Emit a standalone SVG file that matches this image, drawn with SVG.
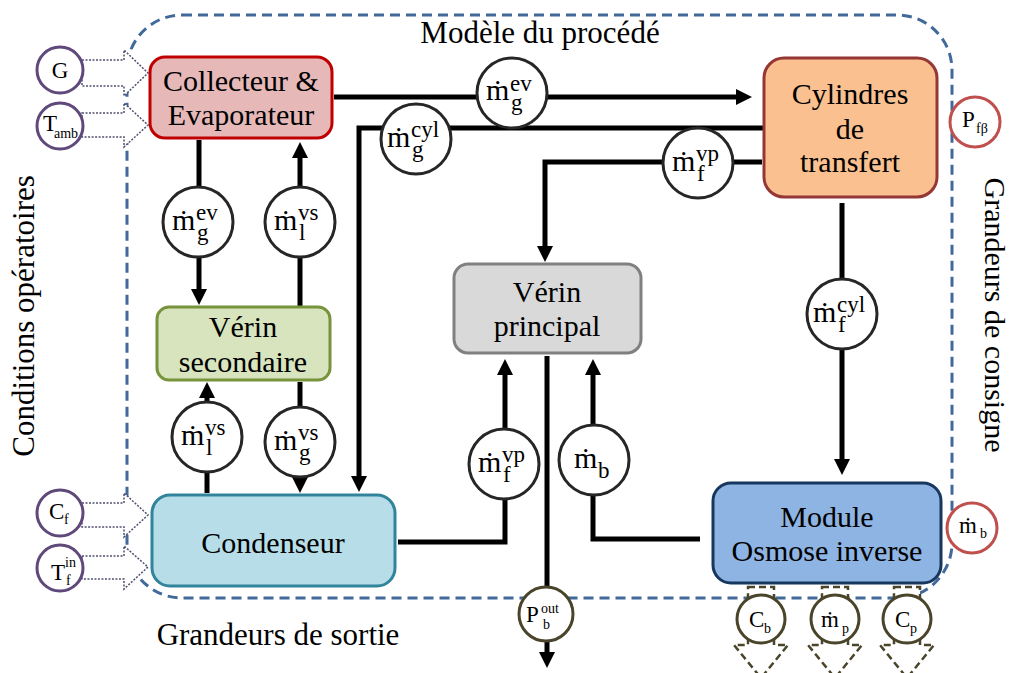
<svg xmlns="http://www.w3.org/2000/svg" width="1011" height="673" viewBox="0 0 1011 673">
<style>
text{font-family:"Liberation Serif","DejaVu Serif",serif;fill:#000}
.bt{font-size:30px;text-anchor:middle}
.lb{font-size:31px;text-anchor:middle}
.m{font-size:30px}
.s{font-size:23px}
.sm{font-size:23px}
.ss{font-size:14px}
.ln{fill:none;stroke:#000;stroke-width:5;marker-end:url(#ah)}
.pl{fill:none;stroke:#000;stroke-width:5}
.fc{fill:#fff;stroke:#262626;stroke-width:3}
.in{fill:#fff;stroke:#5f497a;stroke-width:3}
.sp{fill:#fff;stroke:#c0504d;stroke-width:3}
.out{fill:#fff;stroke:#4a452a;stroke-width:3}
.dot{fill:#fff;stroke:#4f4f6f;stroke-width:1.5;stroke-dasharray:2 1.5}
.dsh{fill:#fff;stroke:#4a452a;stroke-width:2.5;stroke-dasharray:7 4}
.bnd{fill:none;stroke:#41699a;stroke-width:3;stroke-dasharray:10 6}
</style>
<defs>
<marker id="ah" markerUnits="userSpaceOnUse" markerWidth="16" markerHeight="16" refX="6" refY="8" orient="auto">
<path d="M0,0 L16,8 L0,16 z" fill="#000"/>
</marker>
</defs>
<rect width="1011" height="673" fill="#fff"/>
<g id="boundary">
<rect class="bnd" x="127" y="15" width="825" height="583" rx="55" ry="55"/>
<text class="lb" x="540" y="43">Modèle du procédé</text>
<text class="lb" transform="translate(34,316) rotate(-90)">Conditions opératoires</text>
<text class="lb" style="font-size:30px" transform="translate(985,315) rotate(90)">Grandeurs de consigne</text>
<text class="lb" x="278" y="645">Grandeurs de sortie</text>
</g>
<g id="connectors">
<path class="ln" d="M334,97 H742"/>
<path class="ln" d="M764,128 H359 V482"/>
<path class="ln" d="M762,162 H545 V252"/>
<path class="ln" d="M199,140 V295"/>
<path class="ln" d="M300,307 V152"/>
<path class="ln" d="M207,493 V392"/>
<path class="ln" d="M300,382 V483"/>
<path class="ln" d="M398,542 H505 V369"/>
<path class="ln" d="M700,539 H593 V369"/>
<path class="pl" d="M547,356 V590"/>
<path class="ln" d="M547,638 V658"/>
<path class="ln" d="M842,203 V465"/>
<polygon class="dot" points="82,60 124,60 124,50 148,73 124,96 124,86 82,86"/>
<polygon class="dot" points="82,113 124,113 124,103 148,125 124,147 124,137 82,137"/>
<polygon class="dot" points="82,503 124,503 124,493 148,515 124,537 124,527 82,527"/>
<polygon class="dot" points="82,556 124,556 124,546 148,567 124,589 124,579 82,579"/>
<polygon class="dsh" points="748,587 774,587 774,645 788,645 761,678 734,645 748,645"/>
<polygon class="dsh" points="822,587 848,587 848,645 862,645 835,678 808,645 822,645"/>
<polygon class="dsh" points="894,587 920,587 920,645 934,645 907,678 880,645 894,645"/>
</g>
<g id="collecteur">
<rect x="150" y="57" width="182" height="81" rx="15" fill="#e6b9b8" stroke="#c00000" stroke-width="3"/>
<text class="bt" x="241" y="91">Collecteur &amp;</text>
<text class="bt" x="241" y="125">Evaporateur</text>
</g>
<g id="cylindres">
<rect x="764" y="58" width="173" height="139" rx="20" fill="#fac090" stroke="#953735" stroke-width="3"/>
<text class="bt" x="850" y="104">Cylindres</text>
<text class="bt" x="850" y="139">de</text>
<text class="bt" x="850" y="172">transfert</text>
</g>
<g id="verin-secondaire">
<rect x="157" y="307" width="173" height="73" rx="12" fill="#d7e4bd" stroke="#77933c" stroke-width="3"/>
<text class="bt" x="243" y="337">Vérin</text>
<text class="bt" x="243" y="372">secondaire</text>
</g>
<g id="verin-principal">
<rect x="454" y="264" width="187" height="89" rx="14" fill="#d9d9d9" stroke="#808080" stroke-width="3"/>
<text class="bt" x="547" y="302">Vérin</text>
<text class="bt" x="547" y="336">principal</text>
</g>
<g id="condenseur">
<rect x="152" y="495" width="243" height="91" rx="18" fill="#b7dee8" stroke="#31849b" stroke-width="3"/>
<text class="bt" x="273" y="553">Condenseur</text>
</g>
<g id="osmose">
<rect x="713" y="483" width="228" height="100" rx="18" fill="#8eb4e3" stroke="#17375e" stroke-width="3"/>
<text class="bt" x="827" y="527">Module</text>
<text class="bt" x="827" y="561">Osmose inverse</text>
</g>
<g id="f-mg-ev-top">
<circle class="fc" cx="512" cy="93" r="35"/>
<text class="m" x="486" y="100">ṁ<tspan class="s" x="510" dy="-9">ev</tspan><tspan class="s" x="511" dy="19">g</tspan></text>
</g>
<g id="f-mg-cyl">
<circle class="fc" cx="416" cy="139" r="35"/>
<text class="m" x="387" y="147">ṁ<tspan class="s" x="411" dy="-10">cyl</tspan><tspan class="s" x="412" dy="20">g</tspan></text>
</g>
<g id="f-mf-vp-top">
<circle class="fc" cx="698" cy="163" r="35"/>
<text class="m" x="672" y="171">ṁ<tspan class="s" x="696" dy="-10">vp</tspan><tspan class="s" x="697" dy="20">f</tspan></text>
</g>
<g id="f-mg-ev-left">
<circle class="fc" cx="198" cy="222" r="35"/>
<text class="m" x="172" y="230">ṁ<tspan class="s" x="196" dy="-10">ev</tspan><tspan class="s" x="197" dy="20">g</tspan></text>
</g>
<g id="f-ml-vs-top">
<circle class="fc" cx="300" cy="222" r="35"/>
<text class="m" x="274" y="230">ṁ<tspan class="s" x="298" dy="-10">vs</tspan><tspan class="s" x="299" dy="20">l</tspan></text>
</g>
<g id="f-ml-vs-bottom">
<circle class="fc" cx="207" cy="437" r="35"/>
<text class="m" x="181" y="445">ṁ<tspan class="s" x="205" dy="-10">vs</tspan><tspan class="s" x="206" dy="20">l</tspan></text>
</g>
<g id="f-mg-vs">
<circle class="fc" cx="300" cy="442" r="35"/>
<text class="m" x="274" y="450">ṁ<tspan class="s" x="298" dy="-10">vs</tspan><tspan class="s" x="299" dy="20">g</tspan></text>
</g>
<g id="f-mf-cyl">
<circle class="fc" cx="842" cy="314" r="35"/>
<text class="m" x="813" y="322">ṁ<tspan class="s" x="837" dy="-10">cyl</tspan><tspan class="s" x="838" dy="20">f</tspan></text>
</g>
<g id="f-mf-vp-bottom">
<circle class="fc" cx="504" cy="464" r="35"/>
<text class="m" x="478" y="472">ṁ<tspan class="s" x="502" dy="-10">vp</tspan><tspan class="s" x="503" dy="20">f</tspan></text>
</g>
<g id="f-mb">
<circle class="fc" cx="594" cy="460" r="35"/>
<text class="m" x="574" y="468">ṁ<tspan class="s" x="598" dy="10">b</tspan></text>
</g>
<g id="in-G">
<circle class="in" cx="60" cy="70" r="23"/>
<text class="sm" x="60" y="78" text-anchor="middle">G</text>
</g>
<g id="in-Tamb">
<circle class="in" cx="60" cy="126" r="23"/>
<text class="sm" x="43" y="131">T<tspan class="ss" x="54" dy="7">amb</tspan></text>
</g>
<g id="in-Cf">
<circle class="in" cx="60" cy="513" r="23"/>
<text class="sm" x="49" y="519">C<tspan class="ss" x="64" dy="5">f</tspan></text>
</g>
<g id="in-Tfin">
<circle class="in" cx="60" cy="568" r="23"/>
<text class="sm" x="51" y="580">T<tspan class="ss" x="65" dy="-13">in</tspan><tspan class="ss" x="66" dy="18">f</tspan></text>
</g>
<g id="sp-Pfb">
<circle class="sp" cx="975" cy="122" r="25"/>
<text class="sm" x="962" y="127">P<tspan class="ss" x="976" dy="6">fβ</tspan></text>
</g>
<g id="sp-mb">
<circle class="sp" cx="972" cy="528" r="25"/>
<text class="sm" x="959" y="533">ṁ<tspan class="ss" x="980" dy="5">b</tspan></text>
</g>
<g id="out-Pbout">
<circle class="out" cx="546" cy="614" r="27"/>
<text class="sm" x="526" y="622">P<tspan class="ss" x="541" dy="-9">out</tspan><tspan class="ss" x="543" dy="16">b</tspan></text>
</g>
<g id="out-Cb">
<circle class="out" cx="761" cy="619" r="24"/>
<text class="sm" x="749" y="627">C<tspan class="ss" x="764" dy="6">b</tspan></text>
</g>
<g id="out-mp">
<circle class="out" cx="835" cy="619" r="24"/>
<text class="sm" x="821" y="627">ṁ<tspan class="ss" x="842" dy="6">p</tspan></text>
</g>
<g id="out-Cp">
<circle class="out" cx="907" cy="619" r="24"/>
<text class="sm" x="895" y="627">C<tspan class="ss" x="910" dy="6">p</tspan></text>
</g>
</svg>
